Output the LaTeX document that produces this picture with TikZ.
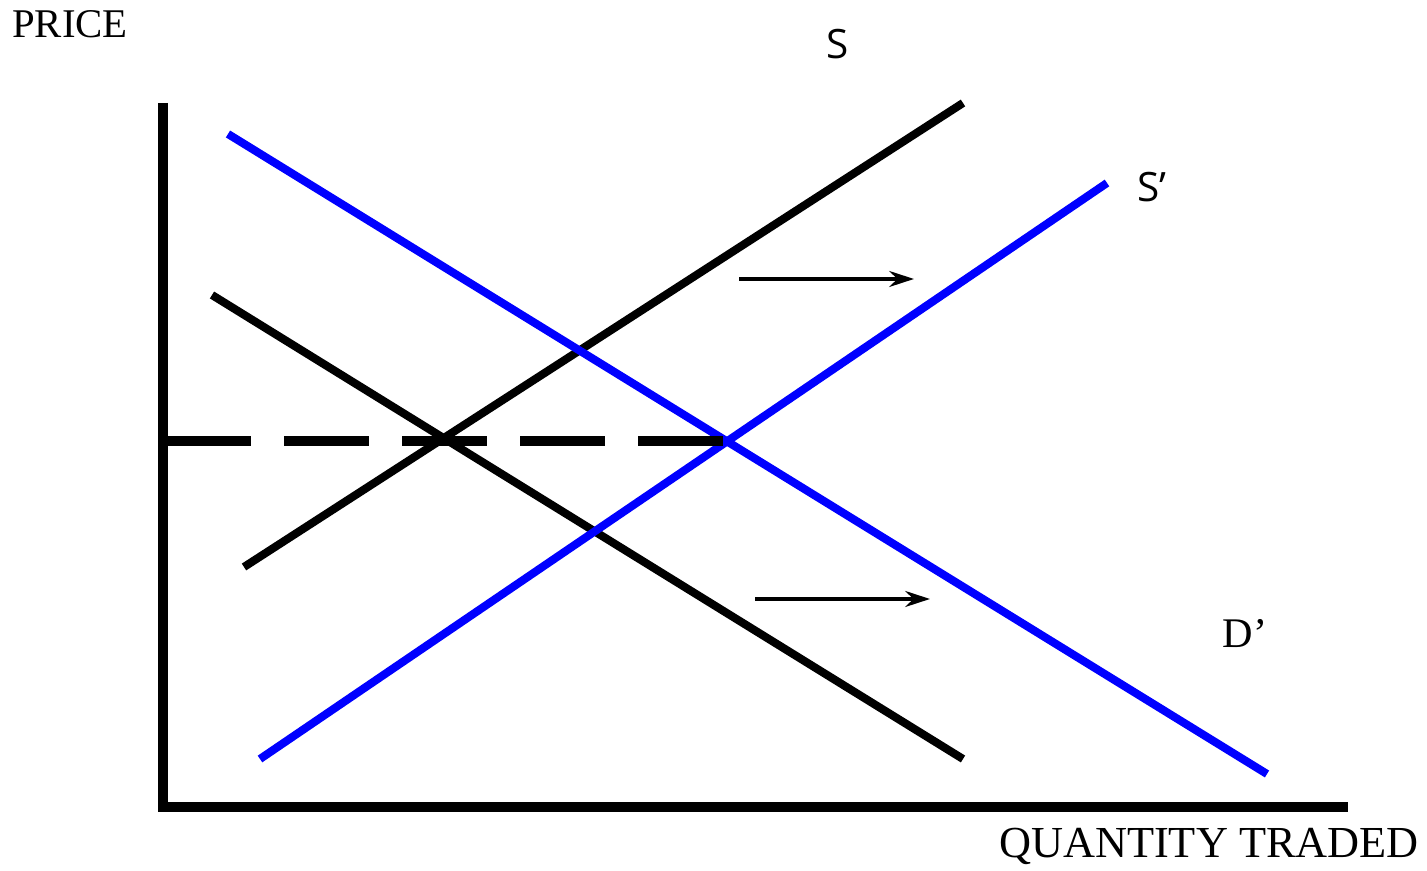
\documentclass[tikz,border=0pt]{standalone}
\usepackage{fontspec}
\setmainfont{Liberation Serif}
\newfontfamily\labelsans{Open Sans}
\usetikzlibrary{arrows.meta}

\begin{document}
\begin{tikzpicture}[x=0.01cm, y=-0.01cm,
    curve/.style={line width=2.3pt},
    shift arrow/.style={line width=1.1pt, -{Stealth[length=7pt, width=4.5pt]}}]
  \useasboundingbox (0,0) rectangle (1427,871);

  % Axes
  \coordinate (origin) at (163,807);
  \coordinate (ytop) at (163,103);
  \coordinate (xend) at (1348,807);
  \draw[line width=3.1pt] (ytop) -- (163,812);
  \draw[line width=3pt] (158,807) -- (xend);
  \node[font=\fontsize{11.6}{13}\selectfont] (price) at (70,24) {PRICE};
  \node[font=\fontsize{12.6}{14}\selectfont] (quantity) at (1209,846) {QUANTITY TRADED};

  % Original supply and demand
  \coordinate (s0) at (244,567);  \coordinate (s1) at (963,103);
  \coordinate (d0) at (212,295);  \coordinate (d1) at (963,759);
  \draw[curve] (s0) -- (s1);
  \draw[curve] (d0) -- (d1);
  \node[font=\labelsans\fontsize{11.5}{13}\selectfont] (slbl) at (838,44) {S};

  % Shifted supply and demand
  \coordinate (t0) at (260,759);  \coordinate (t1) at (1107,183);
  \coordinate (e0) at (228,134);  \coordinate (e1) at (1267,774);
  \draw[curve, blue] (t0) -- (t1);
  \draw[curve, blue] (e0) -- (e1);
  \node[font=\labelsans\fontsize{11.5}{13}\selectfont] (sprime) at (1152,187) {S’};
  \node[font=\fontsize{12}{14}\selectfont] (dprime) at (1245,634) {D’};

  % Price level
  \coordinate (p0) at (166,441);
  \coordinate (p1) at (723,441);
  \draw[line width=3.1pt, dash pattern=on 85\pgflinewidth/3.1*0.2845 off 33\pgflinewidth/3.1*0.2845] (p0) -- (p1);

  % Shift arrows
  \coordinate (a0) at (739,279);  \coordinate (a1) at (914,279);
  \coordinate (b0) at (755,599);  \coordinate (b1) at (930,599);
  \draw[shift arrow] (a0) -- (a1);
  \draw[shift arrow] (b0) -- (b1);
\end{tikzpicture}
\end{document}
